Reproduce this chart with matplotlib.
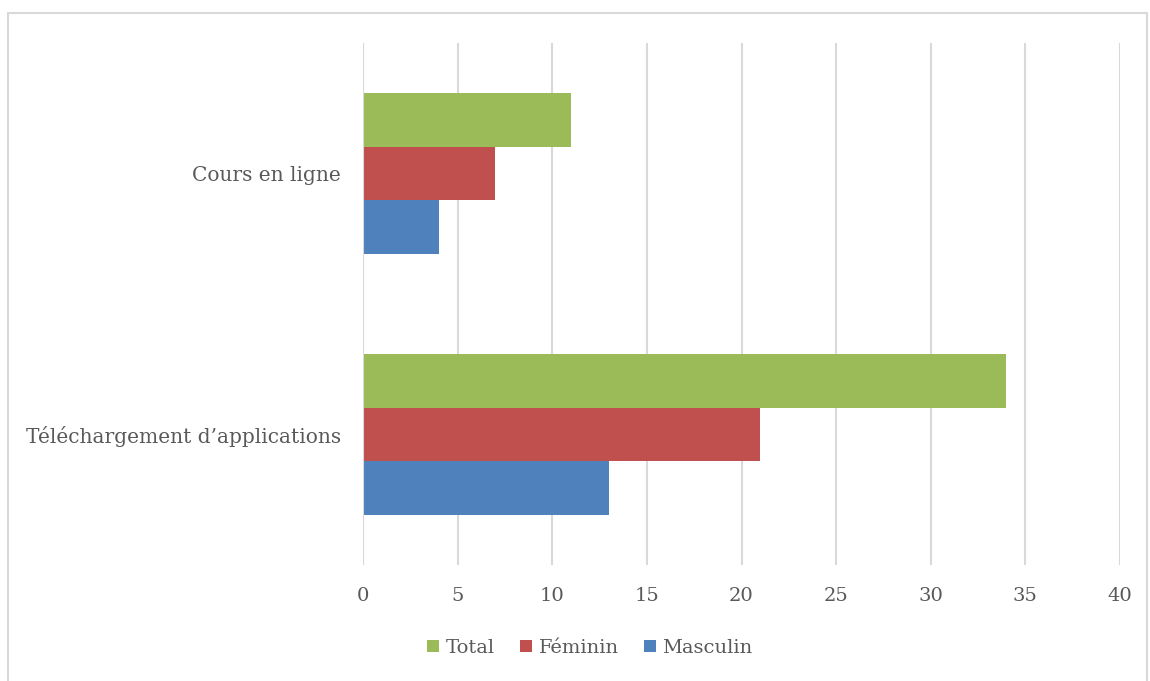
import matplotlib.pyplot as plt
from matplotlib.patches import Rectangle
import numpy as np

categories = ["Téléchargement d’applications", "Cours en ligne"]
series = ["Total", "Féminin", "Masculin"]
total = [34, 11]
feminin = [21, 7]
masculin = [13, 4]
x_ticks = [0, 5, 10, 15, 20, 25, 30, 35, 40]

colors = {"Total": "#9BBB59", "Féminin": "#C0504D", "Masculin": "#4F81BD"}
text_color = "#595959"

plt.rcParams['font.family'] = ['DejaVu Serif']

fig = plt.figure(figsize=(11.5, 6.81), dpi=100)
ax = fig.add_axes([363 / 1150, 1 - 565 / 681, 757 / 1150, 522 / 681])

# outer chart border
fig.patches.append(Rectangle((8 / 1150, -0.1), 1139 / 1150, 1.1 - 13 / 681,
                             transform=fig.transFigure, fill=False,
                             edgecolor="#d9d9d9", linewidth=1.5))

y = np.arange(len(categories))
h = 0.206
values = {"Total": total, "Féminin": feminin, "Masculin": masculin}
offsets = {"Total": h, "Féminin": 0, "Masculin": -h}
for name in series:
    ax.barh(y + offsets[name], values[name], height=h, color=colors[name],
            label=name, zorder=3)

ax.set_xlim(0, 40)
ax.set_ylim(-0.5, 1.5)
ax.set_xticks(x_ticks)
ax.set_yticks(y)
ax.set_yticklabels(categories)
ax.grid(axis='x', color="#d9d9d9", linewidth=1.5, zorder=0)
for s in ax.spines.values():
    s.set_visible(False)
ax.axvline(0, color="#d9d9d9", linewidth=1.5, zorder=4)
ax.tick_params(axis='x', length=0, pad=16, labelsize=14, labelcolor=text_color)
ax.tick_params(axis='y', length=0, pad=16, labelsize=14.5, labelcolor=text_color)

fig.legend(loc='center', bbox_to_anchor=(590 / 1150, 1 - 648 / 681), ncol=3,
           frameon=False, fontsize=14, labelcolor=text_color,
           handlelength=0.6, handleheight=0.6, handletextpad=0.35,
           columnspacing=1.3)

fig.savefig("out.png", dpi=100)
